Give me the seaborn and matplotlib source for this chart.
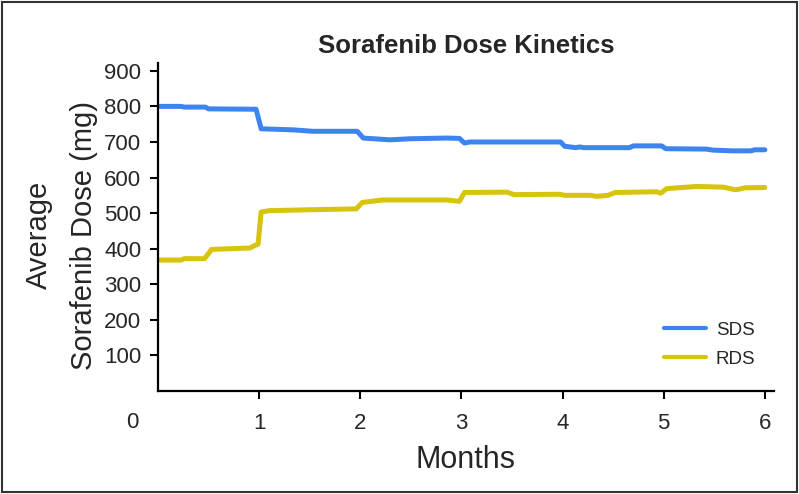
import pandas as pd
import matplotlib
matplotlib.use("Agg")
import matplotlib.pyplot as plt
import matplotlib.transforms as mtransforms
from matplotlib.patches import Rectangle
import seaborn as sns

# values
sds_month = [0.02, 0.23, 0.26, 0.47, 0.50, 0.97, 1.02, 1.34, 1.53, 1.97,
             2.03, 2.29, 2.49, 2.86, 2.98, 3.03, 3.08, 3.98, 4.02, 4.13,
             4.17, 4.21, 4.66, 4.70, 4.98, 5.02, 5.42, 5.49, 5.68, 5.86,
             5.90, 6.00]
sds_dose = [800, 800, 798, 798, 793, 792, 737, 734, 730, 730,
            711, 706, 709, 711, 710, 697, 700, 700, 688, 684,
            686, 684, 684, 689, 689, 681, 680, 677, 675, 675,
            678, 678]

rds_month = [0.02, 0.23, 0.26, 0.46, 0.53, 0.91, 0.95, 0.99, 1.02, 1.10,
             1.43, 1.96, 2.02, 2.22, 2.86, 2.98, 3.03, 3.45, 3.52, 3.97,
             4.02, 4.28, 4.33, 4.45, 4.52, 4.93, 4.97, 5.03, 5.33, 5.59,
             5.70, 5.74, 5.80, 6.00]
rds_dose = [368, 368, 372, 372, 398, 402, 408, 413, 503, 507,
            509, 512, 530, 537, 537, 533, 558, 559, 552, 553,
            550, 550, 547, 550, 558, 560, 556, 569, 575, 573,
            566, 567, 571, 572]

x_ticks = [1, 2, 3, 4, 5, 6]
y_ticks = [100, 200, 300, 400, 500, 600, 700, 800, 900]
groups = ["SDS", "RDS"]
colors = {"SDS": "#3d84f0", "RDS": "#d6c40e"}

df = pd.concat([
    pd.DataFrame({"month": sds_month, "dose": sds_dose, "group": "SDS"}),
    pd.DataFrame({"month": rds_month, "dose": rds_dose, "group": "RDS"}),
], ignore_index=True)

sns.set_style("ticks")
plt.rcParams["font.family"] = ["Liberation Sans", "DejaVu Sans"]

fig = plt.figure(figsize=(7.99, 4.94), dpi=100)
ax = fig.add_axes([0.1977, 0.2085, 0.771, 0.664])

sns.lineplot(data=df, x="month", y="dose", hue="group", hue_order=groups,
             palette=colors, estimator=None, linewidth=3.6, ax=ax)

ax.set_xlim(0, 6.09)
ax.set_ylim(0, 922)
ax.set_xticks(x_ticks)
ax.set_yticks(y_ticks)
ax.tick_params(axis="both", labelsize=16, length=6, width=1.5, color="black")
ax.tick_params(axis="x", pad=10)
ax.tick_params(axis="y", pad=6)
sns.despine(ax=ax)
for s in ["left", "bottom"]:
    ax.spines[s].set_linewidth(1.6)
    ax.spines[s].set_color("black")

# the shared "0" at the corner sits left of the y axis
trans = mtransforms.blended_transform_factory(ax.transData, ax.transAxes)
ax.text(-0.25, -0.095, "0", transform=trans, fontsize=16, ha="center", va="center")

ax.set_xlabel("Months", fontsize=22, va="top")
ax.xaxis.set_label_coords(0.5, -0.165)
ax.set_ylabel("Average\nSorafenib Dose (mg)", fontsize=21, linespacing=1.8)
ax.yaxis.set_label_coords(-0.097, 0.475)
ax.set_title("Sorafenib Dose Kinetics", fontsize=18.5, fontweight="bold", pad=7)

leg = ax.legend(loc="lower right", bbox_to_anchor=(0.97, 0.07), frameon=False,
                fontsize=13.5, handlelength=2.2, handletextpad=0.55,
                labelspacing=0.65, borderpad=0, borderaxespad=0)
for line in leg.get_lines():
    line.set_linewidth(3)

fig.add_artist(Rectangle((0.003, 0.004), 0.994, 0.992, transform=fig.transFigure,
                         fill=False, linewidth=1.5, edgecolor="#333333"))

fig.savefig("out.png", dpi=100)
